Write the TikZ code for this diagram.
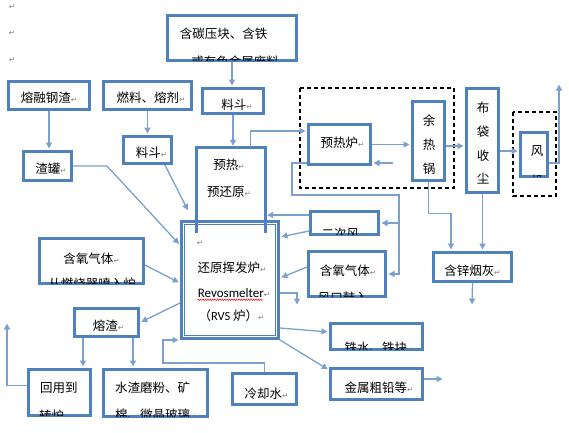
\documentclass[tikz,border=0pt]{standalone}
\usepackage{fontspec}
\setmainfont{Noto Sans CJK SC}
\newfontfamily\latinf{Carlito}
\newfontfamily\symf{DejaVu Sans}
\usetikzlibrary{arrows.meta,decorations.pathmorphing}
\definecolor{boxblue}{RGB}{79,129,189}
\definecolor{linkblue}{RGB}{122,160,206}
\definecolor{markgray}{RGB}{128,128,128}
\newcommand{\retmark}{{\symf\fontsize{7.5}{8}\selectfont\color{markgray}↵}}
\newcommand{\cuttext}[5]{%
\begin{scope}
\clip ([shift={(1.5,-1.5)}]#1.south west) rectangle ([shift={(-1.5,1.5)}]#1.north east);
\node[txt,#3] (#2) at (#4) {#5};
\end{scope}}
\begin{document}
\begin{tikzpicture}[x=1pt,y=-1pt,
  box/.style={draw=boxblue,line width=3pt,fill=white,inner sep=0pt},
  wh/.style 2 args={minimum width=#1pt,minimum height=#2pt},
  boxline/.style={draw=boxblue,line width=3pt},
  txt/.style={inner sep=0pt,font=\fontsize{12.5}{15}\selectfont},
  arr/.style={draw=linkblue,line width=1.3pt,-{Triangle[length=6pt,width=6pt]},shorten >=1.5pt},
  dashbox/.style={draw=black,line width=1.1pt,dash pattern=on 4pt off 3pt}]
\useasboundingbox (0,0) rectangle (569,432);
\draw[dashbox] (300,88) rectangle (454,188);
\draw[dashbox] (513,112) rectangle (556,196);
\node[box,wh={129}{45}] (carbon) at (232,38) {};
\node[box,wh={61}{25}] (hopA) at (233,101) {};
\node[box,wh={81}{28}] (slag) at (49,95.5) {};
\node[box,wh={88}{28}] (fuel) at (147.5,95.5) {};
\node[box,wh={48}{27}] (hopB) at (147.5,150) {};
\node[box,wh={48}{29}] (ladle) at (47.5,166) {};
\node[box,wh={104}{45}] (oxyL) at (91.5,261) {};
\node[box,wh={97}{117}] (rvs) at (230,280) {};
\draw[boxblue,line width=0.8pt] ([shift={(4.5,-4.5)}]rvs.south west) rectangle ([shift={(-4.5,4.5)}]rvs.north east);
\node[inner sep=0pt,wh={69}{85.5}] (prer) at (231,190.25) {};
\draw[boxline] (prer.south west) -- (prer.north west) -- (prer.north east) -- (prer.south east);
\node[box,wh={62}{40}] (preheat) at (339.5,144.5) {};
\node[box,wh={32}{79}] (whb) at (428.5,141) {};
\node[box,wh={32}{104}] (bag) at (482.5,140.5) {};
\node[box,wh={27}{44}] (fan) at (534,154.5) {};
\node[box,wh={68}{23}] (air) at (344.5,223) {};
\node[box,wh={77}{45}] (oxyR) at (347,274) {};
\node[box,wh={78}{29}] (zinc) at (472.5,267) {};
\node[box,wh={64}{28}] (slagb) at (106.5,322.5) {};
\node[box,wh={62}{46}] (reuse) at (59.5,392.5) {};
\node[box,wh={104}{47}] (water) at (155.5,393) {};
\node[box,wh={64}{31}] (cool) at (264.5,389) {};
\node[box,wh={92}{26}] (iron) at (376.5,336.5) {};
\node[box,wh={92}{31}] (metal) at (376.5,384) {};
\foreach \y [count=\i] in {7,33,60} \node[txt] (pm\i) at (12,\y) {\retmark};
\node[txt] (carbon1) at (223.5,34) {含碳压块、含铁};
\cuttext{carbon}{carbon2}{}{235,61.5}{或有色金属废料}
\node[txt] (hopAt) at (237,105) {料斗\retmark};
\node[txt] (slagt) at (49,98) {熔融钢渣\retmark};
\node[txt] (fuelt) at (151,98) {燃料、熔剂\retmark};
\node[txt] (hopBt) at (151.5,153) {料斗\retmark};
\node[txt] (ladlet) at (51,169) {渣罐\retmark};
\node[txt] (prer1) at (229,165) {预热\retmark};
\node[txt] (prer2) at (229,192) {预还原\retmark};
\node[txt] (oxyL1) at (91.5,259) {含氧气体\retmark};
\cuttext{oxyL}{oxyL2}{}{92,283.5}{从燃烧器喷入炉}
\node[txt] (rvs0) at (200,243) {\retmark};
\node[txt] (rvs1) at (232,268) {还原挥发炉\retmark};
\node[txt,font=\latinf\fontsize{13}{15}\selectfont] (revo) at (234,293) {Revosmelter\retmark};
\draw[red,line width=0.5pt,decorate,decoration={zigzag,amplitude=0.7pt,segment length=2.4pt}] ([yshift=-2]revo.south west) -- ([xshift=-7,yshift=-2]revo.south east);
\node[txt] (rvs3) at (231.5,316) {（{\latinf RVS} 炉）\retmark};
\node[txt] (preheatt) at (342.5,143) {预热炉\retmark};
\node[txt,align=center,font=\fontsize{12.5}{24}\selectfont] (whbt) at (429,145) {余\\热\\锅};
\node[txt,align=center,font=\fontsize{12.5}{23.7}\selectfont] (bagt) at (483,143.5) {布\\袋\\收\\尘};
\node[txt] (fan1) at (537,151) {风};
\cuttext{fan}{fan2}{}{537,180.5}{机}
\cuttext{air}{airt}{}{343.5,233.5}{二次风\retmark}
\node[txt] (oxyR1) at (348,271) {含氧气体\retmark};
\cuttext{oxyR}{oxyR2}{}{346,297.5}{风口鼓入\retmark}
\node[txt] (zinct) at (472.5,271) {含锌烟灰\retmark};
\node[txt] (slagbt) at (108.5,326) {熔渣\retmark};
\node[txt,anchor=west] (reuse1) at (40,388) {回用到};
\cuttext{reuse}{reuse2}{anchor=west}{39,415.5}{转炉\retmark}
\node[txt,anchor=west] (water1) at (115,388) {水渣磨粉、矿};
\cuttext{water}{water2}{anchor=west}{115,414.5}{棉、微晶玻璃\retmark}
\node[txt] (coolt) at (266.5,394) {冷却水\retmark};
\cuttext{iron}{iront}{}{379,347.5}{铁水、铁块\retmark}
\node[txt] (metalt) at (379,388) {金属粗铅等\retmark};
\coordinate (back1) at (393,163);
\coordinate (hot) at (399,195);
\coordinate (drop) at (297,306);
\coordinate (lead) at (444,379);
\coordinate (back2) at (7,322);
\coordinate (zn) at ([xshift=-21.5]zinc.north);
\coordinate (dust) at (472,306);
\coordinate (vent) at (559,83);
\draw[arr] (carbon.south) -- (carbon.south |- hopA.north);
\draw[arr] (hopA.south) -- (hopA.south |- prer.north);
\draw[arr] (slag.south) -- (slag.south |- ladle.north);
\draw[arr] (fuel.south) -- (fuel.south |- hopB.north);
\draw[arr] (ladle.east) -- ++(34,0) -- ([yshift=35]rvs.west);
\draw[arr] ([xshift=-8]hopB.south east) -- ([shift={(8.5,-8.5)}]rvs.north west);
\draw[arr] ([yshift=-4]oxyL.east) -- ([yshift=-3]rvs.west);
\draw[arr] ([xshift=19.5]prer.north) |- ([yshift=13.5]preheat.west);
\draw[arr] (preheat.east) -- (preheat.east -| whb.west);
\draw[arr] (back1) -- (back1 -| preheat.east);
\draw[arr] ([yshift=-18.5]preheat.west) -| (292,195) -- (hot) |- (oxyR.east);
\draw[arr] (hot |- air.east) -- (air.east);
\draw[arr] ([yshift=8]air.west) -- ([yshift=8]air.west -| prer.east);
\draw[arr] ([yshift=-8]air.west) -- ([yshift=43]rvs.east);
\draw[arr] ([yshift=7]oxyR.west) -- ([yshift=2]rvs.east);
\draw[arr] ([yshift=-13]rvs.east) -| (drop);
\draw[arr] ([yshift=-48]rvs.east) -- ([yshift=4.5]iron.west);
\draw[arr] (rvs.south east) -- ([yshift=14]metal.west);
\draw[arr] (metal.east |- lead) -- (lead);
\draw[arr] ([yshift=-23]rvs.west) -- (slagb.east);
\draw[arr] ([xshift=-23.5]slagb.south) -- ([xshift=-23.5]slagb.south |- reuse.north);
\draw[arr] ([xshift=26.5]slagb.south) -- ([xshift=26.5]slagb.south |- water.north);
\draw[arr] ([yshift=7]reuse.west) -| (back2);
\draw[arr] (cool.north) |- (163,363) |- (rvs.south west);
\draw[arr] (whb.south) |- ([yshift=37.5]zn) -- (zn);
\draw[arr] (bag.south) -- (bag.south |- zinc.north);
\draw[arr] (zinc.south) -- (dust);
\draw[arr] ([yshift=-5]whb.east) -- ([yshift=-5]whb.east -| bag.west);
\draw[arr] ([yshift=-10.5]bag.east) -- ([yshift=-10.5]bag.east -| fan.west);
\draw[arr] ([yshift=-8.5]fan.east) -| (vent);
\end{tikzpicture}
\end{document}
